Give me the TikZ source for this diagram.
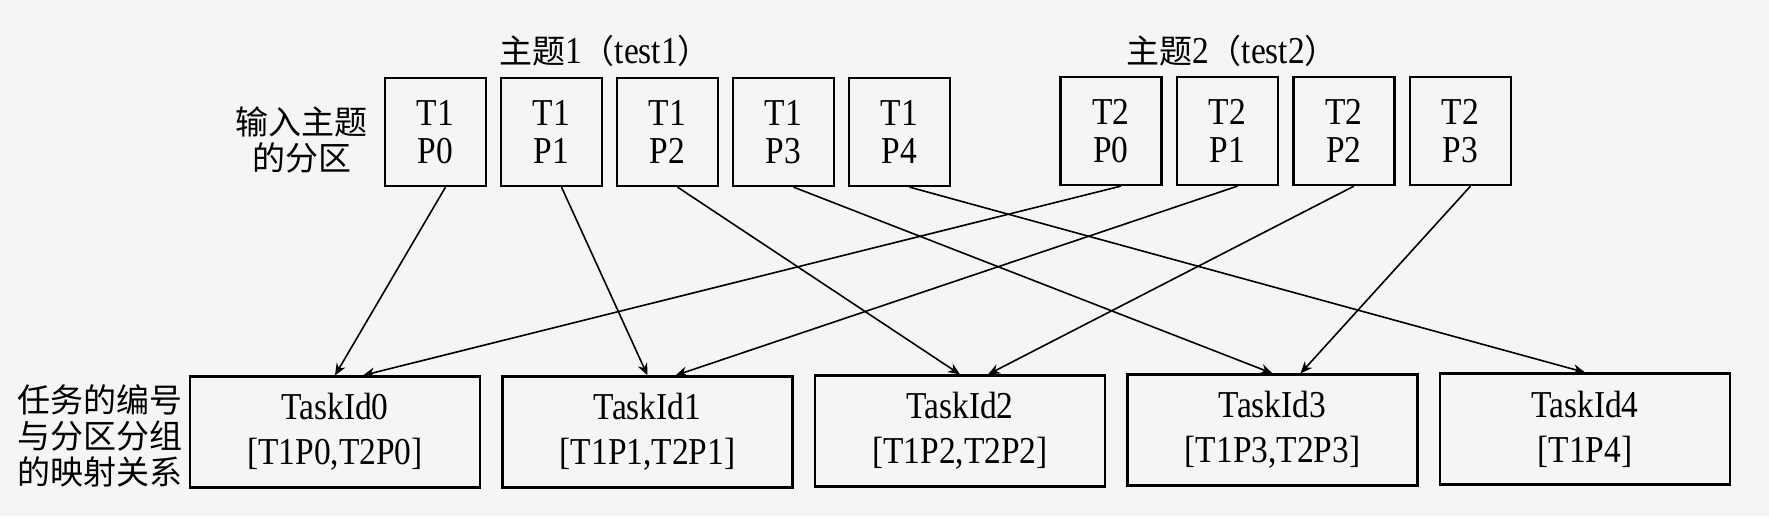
\documentclass[tikz,border=0pt]{standalone}
\usepackage{fontspec}
\setmainfont[FakeStretch=0.88]{Liberation Serif}
\newfontfamily\cjk{Noto Sans CJK SC}
\newcommand{\lat}[1]{{\rmfamily\fontsize{19}{19}\selectfont #1}}
\usetikzlibrary{arrows.meta}

\begin{document}
\begin{tikzpicture}[x=0.5pt,y=-0.5pt,>={Stealth[length=6pt,width=5pt]},
  part/.style={draw,line width=1.1pt,minimum width=50.5pt,minimum height=54pt,inner sep=0pt,align=center,font=\fontsize{19}{19}\selectfont},
  task/.style={draw,line width=1.1pt,minimum width=145pt,minimum height=55.5pt,inner sep=0pt,align=center,font=\fontsize{19}{22.5}\selectfont},
  tag/.style={align=center,inner sep=0pt,font=\cjk\fontsize{16.5}{18}\selectfont},
  link/.style={->,line width=0.8pt}]
\fill[black!4] (0,0) rectangle (1769,516);
\useasboundingbox (0,0) rectangle (1769,516);
\node[tag] (title1) at (605,51) {主题\lat{1}（\lat{test1}）};
\node[tag] (title2) at (1232,51) {主题\lat{2}（\lat{test2}）};
\node[tag,anchor=east] (inlabel) at (368,140) {输入主题\\的分区};
\node[tag,anchor=east] (maplabel) at (183,436) {任务的编号\\与分区分组\\的映射关系};
\node[part] (t1p0) at (435.5,132) {T1\\P0};
\node[part] (t1p1) at (551.5,132) {T1\\P1};
\node[part] (t1p2) at (667.5,132) {T1\\P2};
\node[part] (t1p3) at (783.5,132) {T1\\P3};
\node[part] (t1p4) at (899.5,132) {T1\\P4};
\node[part] (t2p0) at (1111,131) {T2\\P0};
\node[part] (t2p1) at (1227.5,131) {T2\\P1};
\node[part] (t2p2) at (1344,131) {T2\\P2};
\node[part] (t2p3) at (1460.5,131) {T2\\P3};
\node[task] (task0) at (335,432) {TaskId0\\{}[T1P0,T2P0]};
\node[task] (task1) at (647.5,432) {TaskId1\\{}[T1P1,T2P1]};
\node[task] (task2) at (960,431) {TaskId2\\{}[T1P2,T2P2]};
\node[task] (task3) at (1272.5,430) {TaskId3\\{}[T1P3,T2P3]};
\node[task] (task4) at (1585,429) {TaskId4\\{}[T1P4]};
\draw[link] ([xshift=5pt]t1p0.south) -- (task0.north);
\draw[link] ([xshift=5pt]t1p1.south) -- (task1.north);
\draw[link] ([xshift=5pt]t1p2.south) -- (task2.north);
\draw[link] ([xshift=5pt]t1p3.south) -- (task3.north);
\draw[link] ([xshift=5pt]t1p4.south) -- (task4.north);
\draw[link] ([xshift=5pt]t2p0.south) -- ([xshift=14pt]task0.north);
\draw[link] ([xshift=5pt]t2p1.south) -- ([xshift=14pt]task1.north);
\draw[link] ([xshift=5pt]t2p2.south) -- ([xshift=14pt]task2.north);
\draw[link] ([xshift=5pt]t2p3.south) -- ([xshift=14pt]task3.north);
\end{tikzpicture}
\end{document}
